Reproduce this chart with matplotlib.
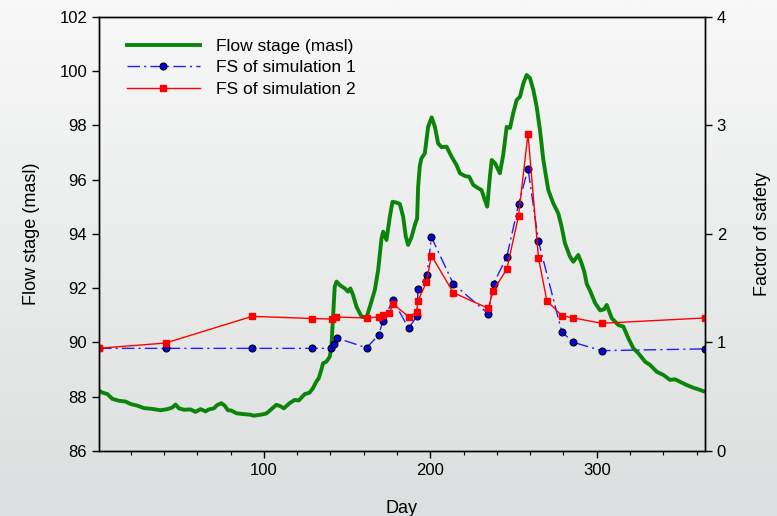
import numpy as np
import matplotlib
matplotlib.use('Agg')
import matplotlib.pyplot as plt
from matplotlib.ticker import MultipleLocator

plt.rcParams['font.family'] = ['Liberation Sans', 'DejaVu Sans']

# Flow stage (masl)
stage_days = [1, 3, 6, 9, 13, 17, 20, 24, 28, 33, 38, 42, 45, 47, 49, 52, 56, 59,
              62, 65, 67, 70, 72, 74.5, 76.5, 78.5, 80.5, 83.5, 87.5, 91.5, 94,
              98.5, 101.5, 104, 107.5, 110, 112, 115.5, 118.5, 121, 124.5, 127.5,
              129.5, 131.5, 133, 134.5, 135.6, 137.6, 139.6, 140.6, 141.6, 142.6,
              143.7, 145.6, 148.6, 150.6, 152, 153.6, 155.7, 158.7, 161.7, 163.7,
              166.7, 168.7, 170.7, 171.7, 173.7, 175.7, 177.3, 179.7, 181.7, 183.7,
              185.3, 186.7, 188.8, 190.7, 192.1, 192.7, 193.7, 194.7, 196.7, 198.7,
              200.8, 202.8, 204.7, 206.8, 209.8, 212.8, 215.8, 217.8, 220.8, 223.4,
              225.8, 228.8, 230.8, 232.8, 234.2, 235.8, 236.9, 238.9, 241.8, 243.8,
              245.9, 247.9, 249.8, 251.9, 253.9, 255.9, 257.9, 259.9, 261.9, 263.9,
              265.9, 267.9, 270.9, 273.9, 276.9, 278.9, 280.9, 283.9, 285.9, 288.9,
              290.9, 292.5, 294, 296, 299, 302, 304.4, 306, 309, 313, 316, 319, 322,
              325, 329, 332, 336, 340, 344, 347, 350, 354, 358, 362, 365]
stage = [88.22, 88.15, 88.10, 87.92, 87.85, 87.82, 87.73, 87.67, 87.58, 87.55, 87.50,
         87.54, 87.60, 87.71, 87.57, 87.52, 87.53, 87.44, 87.54, 87.46, 87.53, 87.57,
         87.69, 87.76, 87.67, 87.50, 87.49, 87.39, 87.36, 87.34, 87.30, 87.34, 87.38,
         87.51, 87.70, 87.65, 87.57, 87.76, 87.88, 87.86, 88.09, 88.15, 88.31, 88.55,
         88.68, 88.98, 89.23, 89.29, 89.47, 89.84, 90.95, 92.05, 92.24, 92.11, 91.99,
         91.87, 91.99, 91.75, 91.31, 90.95, 90.92, 91.31, 91.93, 92.67, 93.83, 94.08,
         93.77, 94.63, 95.18, 95.15, 95.10, 94.63, 93.89, 93.59, 93.89, 94.32, 94.57,
         95.73, 96.50, 96.78, 96.96, 97.94, 98.29, 97.94, 97.33, 97.19, 97.21, 96.84,
         96.53, 96.23, 96.13, 96.10, 95.80, 95.68, 95.61, 95.24, 95.00, 96.10, 96.72,
         96.60, 96.23, 96.90, 97.94, 97.90, 98.44, 98.93, 99.05, 99.54, 99.85, 99.73,
         99.30, 98.68, 97.82, 96.72, 95.61, 95.12, 94.75, 94.26, 93.65, 93.16, 92.97,
         93.22, 92.91, 92.60, 92.15, 91.90, 91.45, 91.18, 91.22, 91.38, 90.89, 90.64,
         90.58, 90.15, 89.78, 89.60, 89.29, 89.17, 88.92, 88.80, 88.62, 88.64, 88.55,
         88.43, 88.33, 88.25, 88.18]

# Factor of safety, simulation 1
sim1_days = [1, 41, 93, 129, 140.5, 142, 144, 161.7, 169, 171.6, 177.6, 187, 192,
             192.6, 198, 200.7, 213.8, 234.8, 238, 246, 253, 258.7, 265, 279, 286,
             303, 365]
sim1_fs = [0.945, 0.945, 0.945, 0.945, 0.945, 0.985, 1.04, 0.95, 1.068, 1.20, 1.39,
           1.13, 1.243, 1.49, 1.62, 1.97, 1.54, 1.264, 1.54, 1.79, 2.27, 2.60, 1.93,
           1.096, 1.00, 0.924, 0.94]

# Factor of safety, simulation 2
sim2_days = [1, 41, 93, 129, 141, 143.5, 161.7, 169, 171.6, 175.5, 177.6, 187, 191.8,
             192.6, 197.7, 200.7, 213.8, 234.8, 237.8, 246, 253, 258.7, 265, 270, 279,
             286, 303, 365]
sim2_fs = [0.946, 0.994, 1.24, 1.22, 1.215, 1.234, 1.225, 1.234, 1.25, 1.275, 1.354,
           1.237, 1.277, 1.384, 1.553, 1.80, 1.458, 1.314, 1.476, 1.676, 2.164, 2.92,
           1.78, 1.384, 1.246, 1.225, 1.176, 1.225]

fig = plt.figure(figsize=(7.77, 5.16), dpi=100)

# soft grey gradient behind everything
bg = fig.add_axes([0, 0, 1, 1], zorder=-10)
grad = np.linspace(0, 1, 256).reshape(-1, 1)
top = np.array([248, 248, 248]) / 255
bot = np.array([220, 223, 223]) / 255
img = top + (bot - top) * grad[..., None]
bg.imshow(img, aspect='auto', extent=[0, 1, 0, 1])
bg.axis('off')

ax = fig.add_axes([0.1274, 0.126, 0.7799, 0.8418])
ax.set_facecolor('none')
ax2 = ax.twinx()

l1, = ax.plot(stage_days, stage, color='#0a850a', lw=2.8, label='Flow stage (masl)')
l2, = ax2.plot(sim1_days, sim1_fs, color='#1f1fff', lw=1.0, dashes=(9, 3, 1.5, 3),
               marker='o', ms=5, mfc='#0000e0', mec='black', mew=0.8,
               label='FS of simulation 1')
l3, = ax2.plot(sim2_days, sim2_fs, color='#ff0000', lw=1.0, marker='s', ms=5,
               mfc='#ff0000', mec='#ff0000', label='FS of simulation 2')

ax.set_xlim(1, 365)
ax.set_ylim(86, 102)
ax2.set_ylim(0, 4)
ax.set_xticks([100, 200, 300])
ax.xaxis.set_minor_locator(MultipleLocator(20))
ax.set_yticks(np.arange(86, 103, 2))
ax2.set_yticks([0, 1, 2, 3, 4])

ax.tick_params(axis='both', which='major', direction='out', length=5, width=1,
               labelsize=12, colors='black')
ax.tick_params(axis='x', which='minor', direction='out', length=3, width=0.8)
ax2.tick_params(axis='y', direction='out', length=5, width=1, labelsize=12)

for a in (ax, ax2):
    for s in a.spines.values():
        s.set_color('black')
        s.set_linewidth(1)

ax.set_xlabel('Day', fontsize=13, labelpad=16)
ax.set_ylabel('Flow stage (masl)', fontsize=13, labelpad=14)
ax2.set_ylabel('Factor of safety', fontsize=13, labelpad=20)

ax2.legend(handles=[l1, l2, l3], loc='upper left', bbox_to_anchor=(0.02, 0.985),
           frameon=False, fontsize=12.5, handlelength=4.2, handletextpad=0.95,
           labelspacing=0.36)

fig.savefig('out.png', dpi=100)
